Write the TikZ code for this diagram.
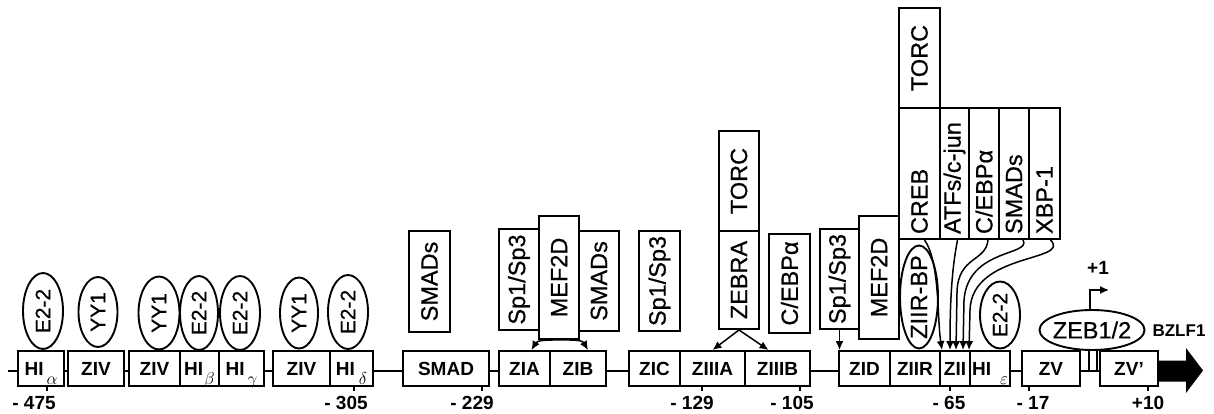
\documentclass[tikz,border=0pt]{standalone}
\usepackage{fontspec}
\setmainfont{Liberation Sans}
\newfontfamily\heavyfont[FakeBold=0.6]{Liberation Sans}
\usepackage{graphicx}
\usetikzlibrary{shapes.geometric,arrows.meta}

\newcommand\segfont{\bfseries\fontsize{19}{21}\selectfont}
\newcommand\facfont{\heavyfont\fontsize{23.5}{26}\selectfont}
\newcommand\ovalfont{\heavyfont\fontsize{21}{24}\selectfont}
\newcommand\posfont{\bfseries\fontsize{19}{21}\selectfont}
\newcommand\gsub[1]{\smash{\raisebox{-9pt}{\mdseries\fontsize{19}{19}\selectfont$#1$}}}
\newcommand\vt[1]{\rotatebox{90}{#1}}
\newcommand\vb[1]{\rotatebox{90}{\makebox[131pt][l]{\hspace{5pt}#1}}}
\newcommand\ov[1]{\rotatebox{90}{\makebox[0pt]{#1}}}

\tikzset{
  seg/.style={draw, fill=white, line width=1.9pt, minimum height=35pt, inner sep=0pt, font=\segfont},
  fac/.style={draw, fill=white, line width=1.9pt, inner sep=0pt, font=\facfont},
  oval/.style={ellipse, draw, fill=white, line width=1.9pt, inner sep=0pt, font=\ovalfont},
  posnum/.style={font=\posfont},
  bind/.style={-{Latex[length=9pt,width=8pt]}, line width=1.5pt},
}

\begin{document}
\begin{tikzpicture}[x=1pt,y=-1pt]
\useasboundingbox (0,0) rectangle (1214,414);
% promoter line
\coordinate (lstart) at (8,371);
\coordinate (lend) at (1160,371);
\draw[line width=1.9pt] (lstart) -- (lend);
\draw[line width=1.9pt] (1089,335) rectangle (1097,371);
\fill (1156,360.5) -- (1186,360.5) -- (1186,348) -- (1203,370.5) -- (1186,393) -- (1186,381.5) -- (1156,381.5) -- cycle;

% sites
\node[seg, minimum width=46pt] (hia) at (41,368.5) {HI\hspace{3pt}\gsub{\alpha}};
\node[seg, minimum width=56pt] (zivA) at (96,368.5) {ZIV};
\node[seg, minimum width=51pt] (zivB) at (154.5,368.5) {ZIV};
\node[seg, minimum width=39pt] (hib) at (199.5,368.5) {HI\hspace{1pt}\gsub{\beta}};
\node[seg, minimum width=45pt] (hig) at (241.5,368.5) {HI\hspace{3pt}\gsub{\gamma}};
\node[seg, minimum width=57pt] (zivC) at (301.5,368.5) {ZIV};
\node[seg, minimum width=43pt] (hid) at (351.5,368.5) {HI\hspace{4pt}\gsub{\delta}};
\node[seg, minimum width=86pt] (smad) at (446,368.5) {SMAD};
\node[seg, minimum width=51pt] (zia) at (524.5,368.5) {ZIA};
\node[seg, minimum width=56pt] (zib) at (578,368.5) {ZIB};
\node[seg, minimum width=51pt] (zic) at (654.5,368.5) {ZIC};
\node[seg, minimum width=65pt] (ziiia) at (712.5,368.5) {ZIIIA};
\node[seg, minimum width=65pt] (ziiib) at (777.5,368.5) {ZIIIB};
\node[seg, minimum width=51pt] (zid) at (864.5,368.5) {ZID};
\node[seg, minimum width=50pt] (ziir) at (915,368.5) {ZIIR};
\node[seg, minimum width=30pt] (zii) at (955,368.5) {ZII};
\node[seg, minimum width=40pt] (hie) at (990,368.5) {HI\hspace{9pt}\gsub{\varepsilon}};
\node[seg, minimum width=58pt] (zv) at (1051,368.5) {ZV};
\node[seg, minimum width=58pt] (zvp) at (1129,368.5) {ZV’};

% positions
\foreach \t in {47,354,482,702,800,950,1029,1148} \draw[line width=1.2pt] (\t,386) -- ++(0,5);
\node[posnum] (p475) at (34,403) {- 475};
\node[posnum] (p305) at (346,403) {- 305};
\node[posnum] (p229) at (472,403) {- 229};
\node[posnum] (p129) at (692,403) {- 129};
\node[posnum] (p105) at (792,403) {- 105};
\node[posnum] (p65) at (949,403) {- 65};
\node[posnum] (p17) at (1033,403) {- 17};
\node[posnum] (p10) at (1148,403) {+10};

% factors
\node[oval, minimum width=40pt, minimum height=76pt] (e2A) at (43,311) {\ov{E2-2}};
\node[oval, minimum width=39pt, minimum height=70pt] (yyA) at (98,312) {\ov{YY1}};
\node[oval, minimum width=41pt, minimum height=73pt] (yyB) at (159,313) {\ov{YY1}};
\node[oval, minimum width=38pt, minimum height=74pt] (e2B) at (199,313) {\ov{E2-2}};
\node[oval, minimum width=40pt, minimum height=74pt] (e2C) at (240,313) {\ov{E2-2}};
\node[oval, minimum width=38pt, minimum height=71pt] (yyC) at (299,313) {\ov{YY1}};
\node[oval, minimum width=40pt, minimum height=74pt] (e2D) at (348,312) {\ov{E2-2}};

\node[fac, minimum width=41pt, minimum height=101pt] (smadsA) at (429.5,281.5) {\vt{SMADs}};
\node[fac, minimum width=40pt, minimum height=101pt] (spA) at (519,279.5) {\vt{Sp1/Sp3}};
\node[fac, minimum width=40pt, minimum height=100pt] (smadsB) at (599,281) {\vt{SMADs}};
\node[fac, minimum width=40pt, minimum height=123pt] (mefA) at (559,277.5) {\vt{MEF2D}};
\node[fac, minimum width=41pt, minimum height=100pt] (spB) at (659.5,281) {\vt{Sp1/Sp3}};
\node[fac, minimum width=40pt, minimum height=98pt] (zebra) at (739,280) {\vt{ZEBRA}};
\node[fac, minimum width=40pt, minimum height=100pt] (torcA) at (739,181) {\vt{TORC}};
\node[fac, minimum width=41pt, minimum height=99pt] (cebpA) at (789.5,283.5) {\vt{C/EBPα}};
\node[fac, minimum width=39pt, minimum height=100pt] (spC) at (839.5,279) {\vt{Sp1/Sp3}};
\node[fac, minimum width=40pt, minimum height=123pt] (mefB) at (879,277.5) {\vt{MEF2D}};

\node[fac, minimum width=41pt, minimum height=100pt] (torcB) at (919.5,58) {\vt{TORC}};
\node[fac, minimum width=41pt] (creb) at (919.5,173.5) {\vb{CREB}};
\node[fac, minimum width=29pt] (atf) at (954.5,173.5) {\vb{ATFs/c-jun}};
\node[fac, minimum width=30pt] (cebpB) at (984,173.5) {\vb{C/EBPα}};
\node[fac, minimum width=30pt] (smadsC) at (1014,173.5) {\vb{SMADs}};
\node[fac, minimum width=31pt] (xbp) at (1044.5,173.5) {\vb{XBP-1}};

\node[oval, minimum width=38pt, minimum height=103pt, font=\facfont] (ziirbp) at (919,297) {\ov{ZIIR-BP}};
\node[oval, minimum width=40pt, minimum height=67pt] (e2E) at (1000,315) {\ov{E2-2}};
\node[oval, minimum width=105pt, minimum height=40pt, font=\facfont] (zeb) at (1092,330) {\makebox[0pt]{ZEB1/2}};

% binding arrows
\draw[bind] (mefA.south) to[out=180,in=60] ([xshift=7pt]zia.north);
\draw[bind] (mefA.south) to[out=0,in=120] ([xshift=10pt]zib.north);
\draw[bind] (zebra.south) -- (ziiia.north);
\draw[bind] (zebra.south) -- ([xshift=-9pt]ziiib.north);
\draw[bind] (spC.south) -- (spC.south |- zid.north);
\draw[bind] ([xshift=5pt]creb.south) .. controls (940,262) and (937,318) .. ([xshift=-13pt]zii.north);
\draw[bind] ([xshift=3pt]atf.south) .. controls (952,268) and (950,300) .. ([xshift=-5pt]zii.north);
\draw[bind] ([xshift=4pt]cebpB.south) .. controls (986,262) and (958,256) .. (957,292) -- ([xshift=1pt]zii.north);
\draw[bind] ([xshift=9pt]smadsC.south) .. controls (1032,256) and (968,248) .. (964,300) -- ([xshift=8pt]zii.north);
\draw[bind] ([xshift=6pt]xbp.south) .. controls (1072,262) and (972,252) .. (970,310) -- ([xshift=14pt]zii.north);

% start site
\coordinate (tss) at (1109,290);
\draw[bind] ([xshift=-2pt]zeb.north) |- (tss);
\node[posnum] (plus1) at (1098,268) {+1};
\node[font=\bfseries\fontsize{17}{19}\selectfont] (bzlf) at (1179,331) {BZLF1};
\end{tikzpicture}
\end{document}
